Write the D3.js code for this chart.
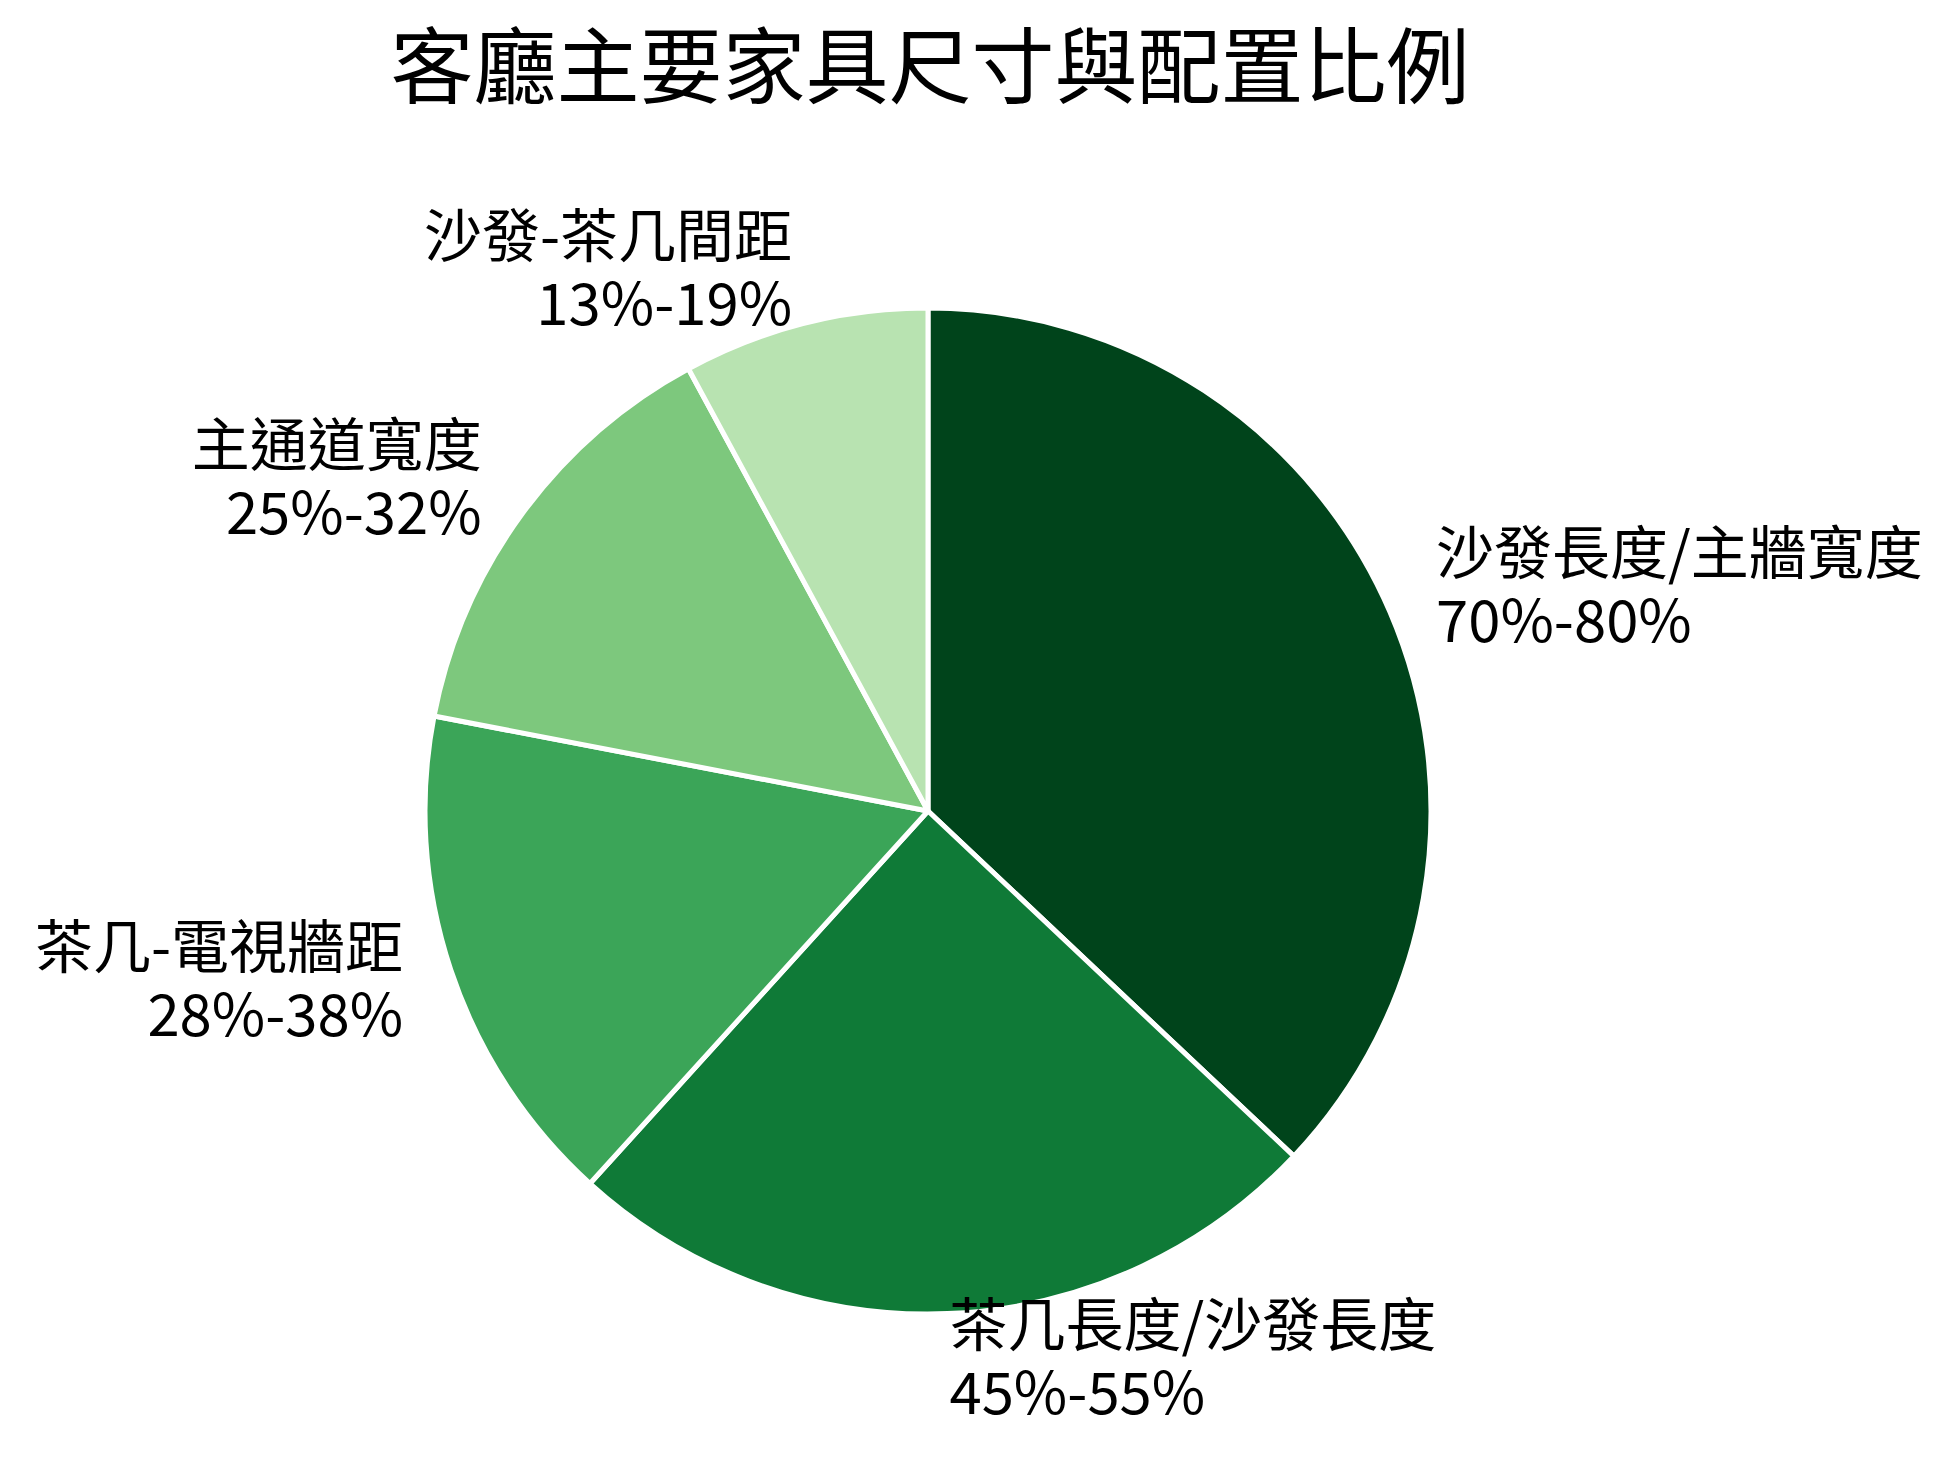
<!DOCTYPE html>
<html>
<head>
<meta charset="utf-8">
<style>
  body { margin: 0; background: #fff; }
  text { font-family: "Noto Sans CJK TC", "Noto Sans CJK SC", sans-serif; fill: #000; }
</style>
</head>
<body>
<div id="container"></div>
<script src="https://cdn.jsdelivr.net/npm/d3@7"></script>
<script>

// categories, in drawing order (clockwise from 12 o'clock)
var categories = ["沙發長度/主牆寬度", "茶几長度/沙發長度", "茶几-電視牆距", "主通道寬度", "沙發-茶几間距"];
// recommended ranges shown under each label
var rangeLabels = ["70%-80%", "45%-55%", "28%-38%", "25%-32%", "13%-19%"];
// slice size = midpoint of each range
var values = [75, 50, 33, 28.5, 16];

var sliceColors = ["#00441b", "#0f7a37", "#3ba558", "#7dc87d", "#b8e3b1"];

var width = 1955, height = 1468;
var cx = 928, cy = 811, radius = 503;

var svg = d3.select("#container")
  .append("svg")
    .attr("width", width)
    .attr("height", height);

// title
svg.append("text")
  .attr("x", 930)
  .attr("y", 97)
  .attr("text-anchor", "middle")
  .style("font-size", "83px")
  .text("客廳主要家具尺寸與配置比例");

var data = categories.map(function(c, i) {
  return {name: c, range: rangeLabels[i], value: values[i]};
});

var color = d3.scaleOrdinal()
  .domain(categories)
  .range(sliceColors);

var pie = d3.pie()
  .sort(null)
  .value(function(d) { return d.value; });

var arc = d3.arc()
  .innerRadius(0)
  .outerRadius(radius);

var g = svg.append("g")
  .attr("transform", "translate(" + cx + "," + cy + ")");

var arcs = pie(data);

g.selectAll("path")
  .data(arcs)
  .enter()
  .append("path")
    .attr("d", arc)
    .style("fill", function(d) { return color(d.data.name); })
    .style("stroke", "#fff")
    .style("stroke-width", 5)
    .style("stroke-linejoin", "round");

// labels sit at 1.1 * radius along the middle angle of each slice
var fs = 58, lineGap = 68;
arcs.forEach(function(d) {
  var mid = (d.startAngle + d.endAngle) / 2;
  var lx = Math.sin(mid) * radius * 1.1;
  var ly = -Math.cos(mid) * radius * 1.1;
  var anchor = lx > 0 ? "start" : "end";

  g.append("text")
    .attr("x", lx)
    .attr("y", ly - 18)
    .attr("text-anchor", anchor)
    .style("font-size", fs + "px")
    .text(d.data.name);

  g.append("text")
    .attr("x", lx)
    .attr("y", ly - 18 + lineGap)
    .attr("text-anchor", anchor)
    .style("font-size", fs + "px")
    .text(d.data.range);
});

</script>
</body>
</html>
